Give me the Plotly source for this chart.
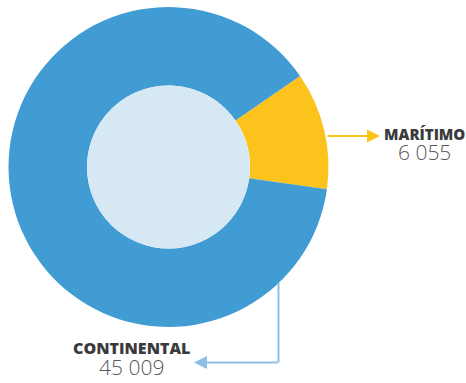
import plotly.graph_objects as go

categories = ["Marítimo", "Continental"]
values = [6055, 45009]
colors = ["#fcc31c", "#429cd4"]

W, H = 466, 383
cx, cy, R, r_in = 168.5, 167.0, 160.0, 81.5

def px(x):
    return x / W

def py(y):
    return 1 - y / H

fmt = lambda v: f"{v:,}".replace(",", " ")

def label(name, v, big):
    return (f"<span style='font-size:{big}px;font-weight:800'>{name.upper()}</span><br>"
            f"<span style='font-size:21px;font-weight:300;color:#58585a'>{fmt(v)}</span>")

fig = go.Figure()
fig.add_trace(go.Pie(
    labels=categories, values=values,
    marker=dict(colors=colors, line=dict(width=0)),
    hole=r_in / R, sort=False, direction="clockwise", rotation=55.3,
    textinfo="none", hoverinfo="label+value", showlegend=False,
    domain=dict(x=[px(cx - R), px(cx + R)], y=[py(cy + R), py(cy - R)]),
))

shapes = [
    dict(type="circle", xref="paper", yref="paper",
         x0=px(cx - r_in), x1=px(cx + r_in), y0=py(cy + r_in), y1=py(cy - r_in),
         fillcolor="#d7e8f5", line=dict(width=0), layer="above"),
    dict(type="line", xref="paper", yref="paper",
         x0=px(278.5), x1=px(278.5), y0=py(283), y1=py(362.5),
         line=dict(color="#8dbfe6", width=2)),
]

annotations = [
    dict(xref="paper", yref="paper", x=px(380), y=py(136), ax=-54, ay=0,
         text="", showarrow=True, arrowhead=2, arrowsize=1.3, arrowwidth=2,
         arrowcolor="#fcc31c"),
    dict(xref="paper", yref="paper", x=px(194), y=py(362.5), ax=85, ay=0,
         text="", showarrow=True, arrowhead=2, arrowsize=1.3, arrowwidth=2,
         arrowcolor="#8dbfe6"),
    dict(xref="paper", yref="paper", x=px(424), y=py(145), xanchor="center", yanchor="middle",
         text=label(categories[0], values[0], 15), showarrow=False, align="center",
         font=dict(family="Open Sans", size=15, color="#3a3a3c")),
    dict(xref="paper", yref="paper", x=px(131), y=py(359), xanchor="center", yanchor="middle",
         text=label(categories[1], values[1], 16), showarrow=False, align="center",
         font=dict(family="Open Sans", size=16, color="#3a3a3c")),
]

fig.update_layout(
    width=W, height=H, margin=dict(l=0, r=0, t=0, b=0),
    paper_bgcolor="white", plot_bgcolor="white",
    shapes=shapes, annotations=annotations, showlegend=False,
)

fig.write_html("out.html", config={"displayModeBar": False},
               post_script="document.body.style.margin='0';document.body.style.overflow='hidden';")
